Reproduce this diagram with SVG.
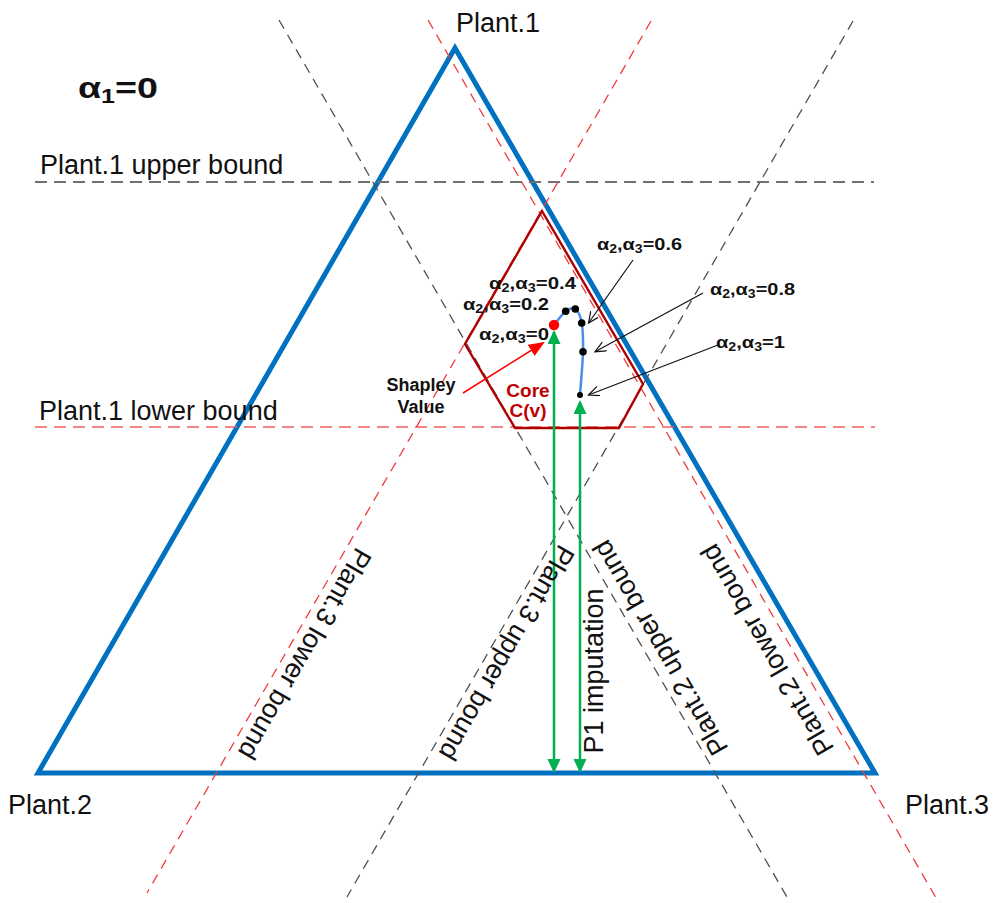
<svg xmlns="http://www.w3.org/2000/svg" width="995" height="903" viewBox="0 0 995 903">
  <style>
    .lbl { font-family: "Liberation Sans", Arial, sans-serif; font-size: 27px; fill: #111; }
    .alpha { font-family: "Liberation Sans", Arial, sans-serif; font-weight: bold; font-size: 17px; fill: #111; }
    .sub { font-size: 12px; }
    .bold { font-family: "Liberation Sans", Arial, sans-serif; font-weight: bold; font-size: 18px; fill: #111; }
    .core-lbl { font-family: "Liberation Sans", Arial, sans-serif; font-weight: bold; font-size: 19px; fill: #c00000; }
    .gray-dash { stroke: #505050; stroke-width: 1.3; stroke-dasharray: 10 7; fill: none; }
    .red-dash { stroke: #f03c3c; stroke-width: 1.3; stroke-dasharray: 10 7; fill: none; }
    .hgray { stroke: #707070; stroke-width: 2; stroke-dasharray: 12 7; fill: none; }
    .hred { stroke: #f06060; stroke-width: 1.6; stroke-dasharray: 12 7; fill: none; }
    .green { stroke: #00b050; stroke-width: 2.5; fill: none; }
    .pointer { stroke: #111; stroke-width: 1.2; fill: none; }
  </style>
  <defs>
    <marker id="greenHead" markerUnits="userSpaceOnUse" markerWidth="16" markerHeight="14" refX="12" refY="6.5" orient="auto-start-reverse">
      <path d="M0,0 L14,6.5 L0,13 z" fill="#00b050"/>
    </marker>
    <marker id="openHead" markerUnits="userSpaceOnUse" markerWidth="14" markerHeight="12" refX="11" refY="5" orient="auto">
      <path d="M0,0 L11,5 L0,10" fill="none" stroke="#111" stroke-width="1.2"/>
    </marker>
    <marker id="redHead" markerUnits="userSpaceOnUse" markerWidth="18" markerHeight="14" refX="14" refY="6.5" orient="auto">
      <path d="M0,0 L16,6.5 L0,13 z" fill="#ff0000"/>
    </marker>
  </defs>

  <rect width="995" height="903" fill="#ffffff"/>

  <!-- simplex of imputations -->
  <g id="simplex">
    <polygon points="455,48 38,773 875,773" fill="none" stroke="#0070c0" stroke-width="5" stroke-linejoin="miter"/>
  </g>

  <!-- bound lines -->
  <g id="bounds">
    <line class="hgray" x1="35" y1="182" x2="874" y2="182"/>
    <line class="hred" x1="35" y1="427" x2="875" y2="427"/>
    <line class="gray-dash" x1="279" y1="20" x2="787" y2="897"/>
    <line class="red-dash" x1="428" y1="20" x2="939" y2="903"/>
    <line class="red-dash" x1="651" y1="21" x2="147" y2="893"/>
    <line class="gray-dash" x1="853" y1="21" x2="347" y2="897"/>
  </g>

  <!-- core C(v) -->
  <g id="core">
    <polygon points="542,211 643,384 619,428 515,428 465,344" fill="none" stroke="#b00000" stroke-width="2.4" stroke-linejoin="miter"/>
  </g>

  <!-- imputation path as alpha2, alpha3 vary -->
  <g id="path-alpha">
    <path d="M554,325 C555.95,322.7 562.15,313.97 565.7,311.3 C569.25,308.63 572.63,307.05 575.3,309 C577.97,310.95 580.42,315.88 581.7,323 C582.98,330.12 583.28,339.7 583,351.7 C582.72,363.7 580.5,387.8 580,395" fill="none" stroke="#4a90e2" stroke-width="2.5"/>
    <circle cx="565.7" cy="311.3" r="3.8" fill="#000"/>
    <circle cx="575.3" cy="309" r="3.8" fill="#000"/>
    <circle cx="581.7" cy="323" r="3.8" fill="#000"/>
    <circle cx="583" cy="351.7" r="3.8" fill="#000"/>
    <circle cx="580" cy="395" r="3" fill="#000"/>
    <circle cx="554" cy="325" r="5.2" fill="#ff0000"/>
  </g>

  <!-- connectors -->
  <g id="connectors">
    <line class="green" x1="554" y1="771" x2="554" y2="332" marker-start="url(#greenHead)" marker-end="url(#greenHead)"/>
    <line class="green" x1="580" y1="771" x2="580" y2="402" marker-start="url(#greenHead)" marker-end="url(#greenHead)"/>
    <line class="pointer" x1="633" y1="260" x2="588.5" y2="323" marker-end="url(#openHead)"/>
    <line class="pointer" x1="703" y1="293" x2="595" y2="351.7" marker-end="url(#openHead)"/>
    <line class="pointer" x1="718" y1="345" x2="588.5" y2="395" marker-end="url(#openHead)"/>
    <line x1="463" y1="393" x2="543" y2="343" stroke="#ff0000" stroke-width="1.5" marker-end="url(#redHead)"/>
  </g>

  <!-- vertex and bound labels -->
  <g id="labels">
    <text class="lbl" x="456" y="32">Plant.1</text>
    <text class="lbl" x="8" y="814">Plant.2</text>
    <text class="lbl" x="905" y="814">Plant.3</text>
    <text class="lbl" x="40" y="174">Plant.1 upper bound</text>
    <text class="lbl" x="39" y="420">Plant.1 lower bound</text>
    <text class="lbl" transform="translate(305,654) rotate(120)" text-anchor="middle" dy="0.35em">Plant.3 lower bound</text>
    <text class="lbl" transform="translate(507,653) rotate(120)" text-anchor="middle" dy="0.35em">Plant.3 upper bound</text>
    <text class="lbl" transform="translate(660,648) rotate(-120)" text-anchor="middle" dy="0.35em">Plant.2 upper bound</text>
    <text class="lbl" transform="translate(767,650) rotate(-120)" text-anchor="middle" dy="0.35em">Plant.2 lower bound</text>
    <text class="lbl" transform="translate(594,671) rotate(-90)" text-anchor="middle" dy="0.35em">P1 imputation</text>
  </g>

  <g id="alpha1">
    <text x="78" y="98" font-family="Liberation Sans, Arial, sans-serif" font-weight="bold" font-size="30" fill="#111" textLength="80" lengthAdjust="spacingAndGlyphs">α<tspan font-size="20" dy="5">1</tspan><tspan dy="-5">=0</tspan></text>
  </g>

  <g id="alpha-labels">
    <text class="alpha" x="489" y="289" textLength="87" lengthAdjust="spacingAndGlyphs">α<tspan class="sub" dy="3">2</tspan><tspan dy="-3">,α</tspan><tspan class="sub" dy="3">3</tspan><tspan dy="-3">=0.4</tspan></text>
    <text class="alpha" x="463" y="310" textLength="86" lengthAdjust="spacingAndGlyphs">α<tspan class="sub" dy="3">2</tspan><tspan dy="-3">,α</tspan><tspan class="sub" dy="3">3</tspan><tspan dy="-3">=0.2</tspan></text>
    <text class="alpha" x="479" y="340" textLength="70" lengthAdjust="spacingAndGlyphs">α<tspan class="sub" dy="3">2</tspan><tspan dy="-3">,α</tspan><tspan class="sub" dy="3">3</tspan><tspan dy="-3">=0</tspan></text>
    <text class="alpha" x="597" y="250" textLength="85" lengthAdjust="spacingAndGlyphs">α<tspan class="sub" dy="3">2</tspan><tspan dy="-3">,α</tspan><tspan class="sub" dy="3">3</tspan><tspan dy="-3">=0.6</tspan></text>
    <text class="alpha" x="710" y="295" textLength="85" lengthAdjust="spacingAndGlyphs">α<tspan class="sub" dy="3">2</tspan><tspan dy="-3">,α</tspan><tspan class="sub" dy="3">3</tspan><tspan dy="-3">=0.8</tspan></text>
    <text class="alpha" x="716" y="348" textLength="69" lengthAdjust="spacingAndGlyphs">α<tspan class="sub" dy="3">2</tspan><tspan dy="-3">,α</tspan><tspan class="sub" dy="3">3</tspan><tspan dy="-3">=1</tspan></text>
  </g>

  <g id="shapley-label">
    <text class="bold" x="421" y="391" text-anchor="middle">Shapley</text>
    <text class="bold" x="421" y="413" text-anchor="middle">Value</text>
  </g>

  <g id="core-label">
    <text class="core-lbl" x="528" y="397" text-anchor="middle">Core</text>
    <text class="core-lbl" x="528" y="417" text-anchor="middle">C(v)</text>
  </g>
</svg>
